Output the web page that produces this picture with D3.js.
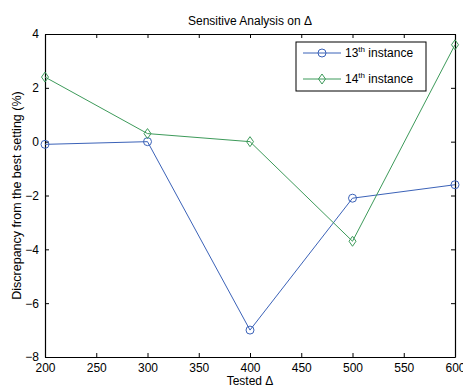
<!DOCTYPE html>
<html>
<head>
<meta charset="utf-8">
<script src="https://cdn.jsdelivr.net/npm/d3@7"></script>
<style>
  body { margin: 0; background: #fff; }
  text { font-family: "Liberation Sans", Arial, sans-serif; }
</style>
</head>
<body>
<div id="chart"></div>
<script>
// values
const deltas = [200, 300, 400, 500, 600];
const inst13 = [-0.1, 0.0, -7.0, -2.1, -1.6];
const inst14 = [2.4, 0.3, 0.0, -3.7, 3.6];
const xTicks = [200, 250, 300, 350, 400, 450, 500, 550, 600];
const yTicks = [-8, -6, -4, -2, 0, 2, 4];

const dims = { width: 463, height: 388 };
const margin = { left: 45, right: 8, top: 34, bottom: 31 };

const svg = d3.select('#chart').append('svg')
  .attr('width', dims.width)
  .attr('height', dims.height);

const x = d3.scaleLinear().domain([200, 600]).range([margin.left, dims.width - margin.right]);
const y = d3.scaleLinear().domain([-8, 4]).range([dims.height - margin.bottom, margin.top]);

const fontSize = 12;

// axes, ticks pointing inward
const gx = svg.append('g')
  .attr('transform', `translate(0,${y(-8)})`)
  .call(d3.axisBottom(x).tickValues(xTicks).tickSizeInner(-4).tickSizeOuter(0).tickPadding(6));
const gxTop = svg.append('g')
  .attr('transform', `translate(0,${y(4)})`)
  .call(d3.axisTop(x).tickValues(xTicks).tickSizeInner(-4).tickSizeOuter(0).tickFormat(''));
const gy = svg.append('g')
  .attr('transform', `translate(${x(200)},0)`)
  .call(d3.axisLeft(y).tickValues(yTicks).tickSizeInner(-4).tickSizeOuter(0).tickPadding(6));
const gyRight = svg.append('g')
  .attr('transform', `translate(${x(600)},0)`)
  .call(d3.axisRight(y).tickValues(yTicks).tickSizeInner(-4).tickSizeOuter(0).tickFormat(''));

[gx, gxTop, gy, gyRight].forEach(g => {
  g.selectAll('path.domain').attr('stroke', '#000').attr('stroke-width', 1.2);
  g.selectAll('.tick line').attr('stroke', '#000');
  g.selectAll('.tick text').attr('font-size', fontSize).attr('fill', '#000')
    .style('font-family', '"Liberation Sans", Arial, sans-serif');
});

// series
const series = [
  { name: '13', values: inst13, color: '#3b62b8', marker: 'circle' },
  { name: '14', values: inst14, color: '#3d9a5a', marker: 'diamond' }
];

const line = d3.line()
  .x((d, i) => x(deltas[i]))
  .y(d => y(d));

function drawMarker(g, kind, color) {
  if (kind === 'circle') {
    g.append('circle').attr('r', 4).attr('fill', 'none').attr('stroke', color).attr('stroke-width', 1);
  } else {
    g.append('path').attr('d', 'M0,-5L3.5,0L0,5L-3.5,0Z')
      .attr('fill', 'none').attr('stroke', color).attr('stroke-width', 1);
  }
}

series.forEach(s => {
  svg.append('path')
    .datum(s.values)
    .attr('fill', 'none')
    .attr('stroke', s.color)
    .attr('stroke-width', 1)
    .attr('d', line);
  s.values.forEach((v, i) => {
    const g = svg.append('g').attr('transform', `translate(${x(deltas[i])},${y(v)})`);
    drawMarker(g, s.marker, s.color);
  });
});

// legend
const legend = svg.append('g').attr('transform', 'translate(296,42)');
legend.append('rect')
  .attr('width', 130).attr('height', 49)
  .attr('fill', '#fff').attr('stroke', '#000').attr('stroke-width', 1);
series.forEach((s, i) => {
  const ly = 11 + i * 26;
  legend.append('line')
    .attr('x1', 7).attr('x2', 45).attr('y1', ly).attr('y2', ly)
    .attr('stroke', s.color).attr('stroke-width', 1);
  const mg = legend.append('g').attr('transform', `translate(26,${ly})`);
  drawMarker(mg, s.marker, s.color);
  const t = legend.append('text')
    .attr('x', 49).attr('y', ly + 4)
    .attr('font-size', 12).attr('fill', '#000');
  t.append('tspan').text(s.name);
  t.append('tspan').attr('font-size', 8).attr('dy', -5).text('th');
  t.append('tspan').attr('dy', 5).text(' instance');
});

// title and axis labels
svg.append('text')
  .attr('x', (x(200) + x(600)) / 2).attr('y', 25)
  .attr('text-anchor', 'middle').attr('font-size', fontSize)
  .text('Sensitive Analysis on Δ');
svg.append('text')
  .attr('x', (x(200) + x(600)) / 2).attr('y', 385)
  .attr('text-anchor', 'middle').attr('font-size', fontSize)
  .text('Tested Δ');
svg.append('text')
  .attr('transform', `translate(21,${(y(4) + y(-8)) / 2}) rotate(-90)`)
  .attr('text-anchor', 'middle').attr('font-size', 12.5)
  .text('Discrepancy from the best setting (%)');
</script>
</body>
</html>
